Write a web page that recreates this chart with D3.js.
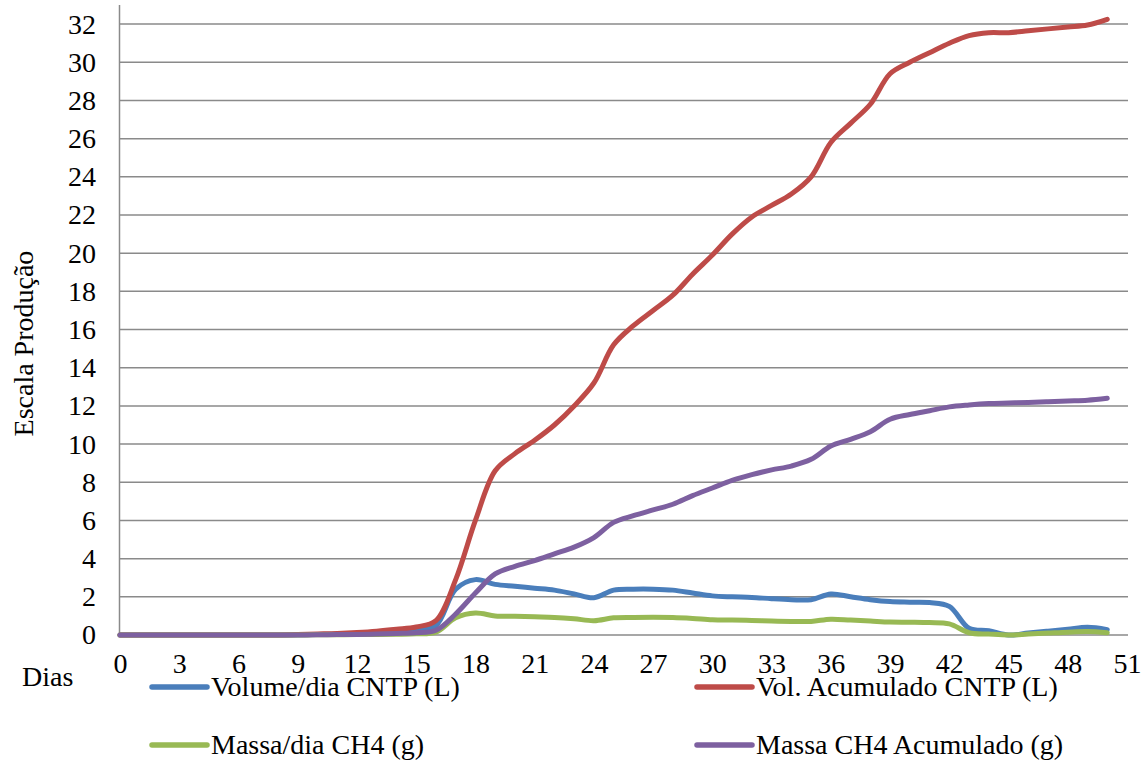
<!DOCTYPE html>
<html>
<head>
<meta charset="utf-8">
<script src="https://cdn.jsdelivr.net/npm/d3@7"></script>
<style>
  html, body { margin: 0; padding: 0; background: #fff; }
  svg { display: block; }
  text { font-family: "Liberation Serif", "Times New Roman", serif; fill: #000; }
</style>
</head>
<body>
<svg id="chart" width="1147" height="760"></svg>
<script>
// Days of measurement
const days = d3.range(0, 51);

// Volume/dia CNTP (L)
const volumeDia = [0,0,0,0,0,0,0,0,0,0.01,0.03,0.05,0.08,0.12,0.18,0.26,0.5,2.4,2.9,2.65,2.55,2.45,2.35,2.15,1.95,2.35,2.4,2.4,2.35,2.2,2.05,2.0,1.97,1.9,1.85,1.85,2.15,2.0,1.85,1.75,1.72,1.7,1.5,0.35,0.22,0.0,0.1,0.2,0.3,0.4,0.28];

// Vol. Acumulado CNTP (L)
const volAcumulado = [0,0,0,0,0,0,0,0,0,0.02,0.05,0.08,0.13,0.2,0.3,0.42,0.75,2.9,6.0,8.6,9.5,10.2,11.0,12.0,13.2,15.2,16.2,17.0,17.8,18.9,19.9,21.0,21.9,22.5,23.1,24.0,25.8,26.8,27.8,29.4,30.0,30.5,31.0,31.4,31.55,31.55,31.65,31.75,31.85,31.95,32.25];

// Massa/dia CH4 (g)
const massaDia = [0,0,0,0,0,0,0,0,0,0,0.01,0.01,0.02,0.03,0.04,0.06,0.15,0.9,1.15,1.0,0.98,0.95,0.92,0.85,0.75,0.9,0.92,0.93,0.92,0.87,0.8,0.78,0.76,0.73,0.71,0.71,0.83,0.78,0.73,0.68,0.67,0.65,0.58,0.12,0.05,0.0,0.05,0.1,0.15,0.18,0.12];

// Massa CH4 Acumulado (g)
const massaAcumulado = [0,0,0,0,0,0,0,0,0,0,0.01,0.02,0.03,0.05,0.08,0.12,0.25,1.1,2.2,3.2,3.6,3.9,4.25,4.6,5.1,5.9,6.25,6.55,6.85,7.3,7.7,8.1,8.4,8.65,8.85,9.2,9.9,10.25,10.65,11.3,11.55,11.75,11.95,12.05,12.12,12.15,12.18,12.22,12.26,12.3,12.4];

const xTicks = d3.range(0, 52, 3);
const yTicks = d3.range(0, 33, 2);

const seriesNames = ["Volume/dia CNTP (L)", "Vol. Acumulado CNTP (L)", "Massa/dia CH4 (g)", "Massa CH4 Acumulado (g)"];
const seriesColors = ["#4a7ebb", "#be4b48", "#98b954", "#7d60a0"];
const seriesValues = [volumeDia, volAcumulado, massaDia, massaAcumulado];

const FONT = "Liberation Serif";
const FS = 28;

const svg = d3.select("#chart");
const plot = { left: 120, right: 1127, top: 5, bottom: 635 };

const x = d3.scaleLinear().domain([0, 51]).range([plot.left, plot.right]);
const y = d3.scaleLinear().domain([0, 33]).range([plot.bottom, plot.top]);

// Horizontal gridlines
svg.append("g")
  .selectAll("line")
  .data(yTicks)
  .join("line")
  .attr("x1", plot.left).attr("x2", plot.right + 1)
  .attr("y1", d => y(d)).attr("y2", d => y(d))
  .attr("stroke", "#8a8a8a").attr("stroke-width", 1.5);

// Vertical axis line
svg.append("line")
  .attr("x1", plot.left - 0.5).attr("x2", plot.left - 0.5)
  .attr("y1", plot.top).attr("y2", plot.bottom)
  .attr("stroke", "#8a8a8a").attr("stroke-width", 1.5);

// Y axis labels
const yAxis = d3.axisLeft(y).tickValues(yTicks).tickSize(0).tickPadding(24);
const gy = svg.append("g")
  .attr("transform", `translate(${plot.left},0)`)
  .call(yAxis)
  .attr("font-family", FONT)
  .attr("font-size", FS);
gy.select(".domain").remove();

// X axis labels
const xAxis = d3.axisBottom(x).tickValues(xTicks).tickSize(0).tickPadding(18);
const gx = svg.append("g")
  .attr("transform", `translate(0,${plot.bottom})`)
  .call(xAxis)
  .attr("font-family", FONT)
  .attr("font-size", FS);
gx.select(".domain").remove();

svg.append("text")
  .attr("x", 22).attr("y", 686)
  .attr("font-family", FONT)
  .attr("font-size", FS)
  .text("Dias");

svg.append("text")
  .attr("transform", `translate(33, ${(y(0) + y(32)) / 2 + 14}) rotate(-90)`)
  .attr("text-anchor", "middle")
  .attr("font-family", FONT)
  .attr("font-size", FS)
  .text("Escala Produção");

// Series lines
const line = d3.line()
  .x((d, i) => x(days[i]))
  .y(d => y(d))
  .curve(d3.curveCatmullRom.alpha(0.5));

svg.append("g")
  .selectAll("path")
  .data(seriesValues)
  .join("path")
  .attr("d", d => line(d))
  .attr("fill", "none")
  .attr("stroke", (d, i) => seriesColors[i])
  .attr("stroke-width", 5)
  .attr("stroke-linejoin", "round")
  .attr("stroke-linecap", "round");

// Legend (two columns)
const legendPos = [
  { x: 152, y: 687 },
  { x: 697, y: 687 },
  { x: 152, y: 745 },
  { x: 697, y: 745 }
];
const legend = svg.append("g")
  .selectAll("g")
  .data(seriesNames)
  .join("g")
  .attr("transform", (d, i) => `translate(${legendPos[i].x},${legendPos[i].y})`);

legend.append("line")
  .attr("x1", 0).attr("x2", 55).attr("y1", 0).attr("y2", 0)
  .attr("stroke", (d, i) => seriesColors[i])
  .attr("stroke-width", 5.5)
  .attr("stroke-linecap", "round");

legend.append("text")
  .attr("x", 59).attr("y", 9)
  .attr("font-family", FONT)
  .attr("font-size", FS)
  .text(d => d);
</script>
</body>
</html>
